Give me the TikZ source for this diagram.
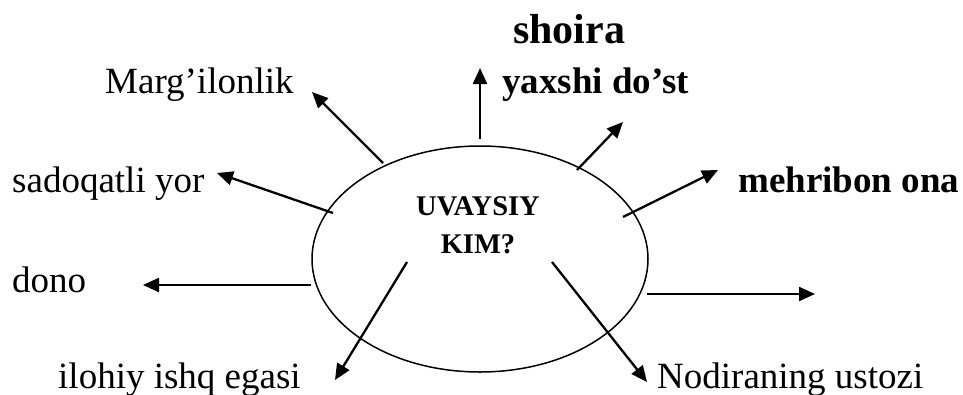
\documentclass[tikz,border=0pt]{standalone}
\usepackage{fontspec}
\setmainfont{Liberation Serif}
\usetikzlibrary{arrows.meta,shapes.geometric}

\begin{document}
\begin{tikzpicture}[x=1pt,y=-1pt,>={Triangle[length=16pt,width=14pt]},
  word/.style={inner sep=0pt,anchor=base west,font=\fontsize{37}{40}\selectfont},
  bword/.style={word,font=\fontsize{37}{40}\selectfont\bfseries},
  ray/.style={->,line width=2.3pt}]
\useasboundingbox (0,0) rectangle (963,394);

\node [draw,ellipse,line width=1.5pt,inner sep=0pt,minimum width=336pt,minimum height=226pt] (uv) at (480,259) {};
\node [inner sep=0pt,anchor=base,font=\fontsize{28.5}{34}\selectfont\bfseries] (uvaysiy) at (478,215) {UVAYSIY};
\node [inner sep=0pt,anchor=base,font=\fontsize{28.5}{34}\selectfont\bfseries] (kim) at (478,253) {KIM?};

\node [bword,font=\fontsize{42}{46}\selectfont\bfseries] (shoira) at (513,43) {shoira};
\node [bword] (dost) at (502,93) {yaxshi do’st};
\node [bword] (ona) at (738,192) {mehribon ona};
\node [word] (marg) at (105,93) {Marg’ilonlik};
\node [word] (yor) at (12,192) {sadoqatli yor};
\node [word] (dono) at (12,292) {dono};
\node [word] (ishq) at (58,388) {ilohiy ishq egasi};
\node [word] (ustoz) at (657,388) {Nodiraning ustozi};

\coordinate (sShoira) at (480,139);
\coordinate (tShoira) at (480,68);
\coordinate (sMarg) at (383,163);
\coordinate (tMarg) at (312,92);
\coordinate (sDost) at (577,170);
\coordinate (tDost) at (623,122);
\coordinate (sOna) at (623,217);
\coordinate (tOna) at (718,170);
\coordinate (sRight) at (647,294);
\coordinate (tRight) at (815,294);
\coordinate (sUstoz) at (552,262);
\coordinate (tUstoz) at (647,382);
\coordinate (sIshq) at (407,262);
\coordinate (tIshq) at (335,380);
\coordinate (sDono) at (311,285);
\coordinate (tDono) at (143,285);
\coordinate (sYor) at (333,213);
\coordinate (tYor) at (217,173);

\draw [ray] (sShoira) -- (tShoira);
\draw [ray] (sMarg) -- (tMarg);
\draw [ray] (sDost) -- (tDost);
\draw [ray] (sOna) -- (tOna);
\draw [ray] (sRight) -- (tRight);
\draw [ray] (sUstoz) -- (tUstoz);
\draw [ray] (sIshq) -- (tIshq);
\draw [ray] (sDono) -- (tDono);
\draw [ray] (sYor) -- (tYor);

\end{tikzpicture}
\end{document}
